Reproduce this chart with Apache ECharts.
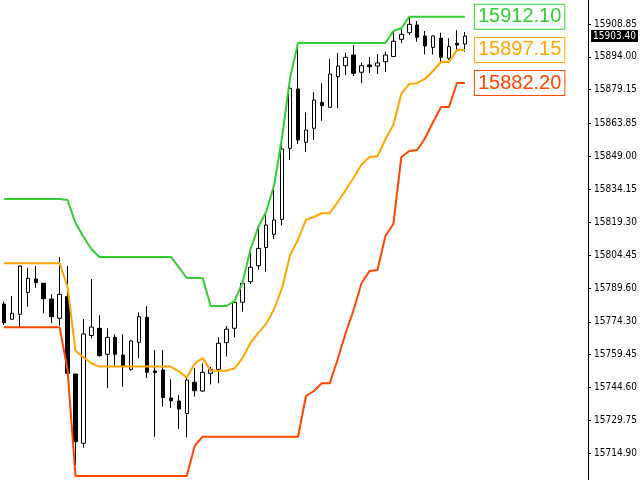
<!DOCTYPE html>
<html>
<head>
<meta charset="utf-8">
<script src="https://cdn.jsdelivr.net/npm/echarts@6/dist/echarts.min.js"></script>
<style>
html,body{margin:0;padding:0;background:#fff;}
#main{width:640px;height:480px;}
</style>
</head>
<body>
<div id="main"></div>
<script>
// ---- data ----
var opens = [15782.35,15775.45,15777.70,15787.65,15793.65,15791.70,15784.60,15775.90,15785.65,15750.75,
15719.45,15768.15,15771.40,15759.65,15767.30,15759.30,15752.85,15765.05,15776.35,15752.10,
15752.55,15739.90,15738.55,15732.90,15747.00,15743.05,15751.05,15752.85,15764.90,15771.40,
15783.15,15792.45,15799.65,15807.90,15813.85,15820.60,15852.70,15879.50,15855.40,15861.75,
15873.50,15871.20,15885.05,15890.00,15894.85,15887.05,15890.35,15889.85,15891.80,15894.15,
15901.95,15904.90,15908.40,15903.45,15898.30,15902.40,15893.35,15900.15,15899.80];
var highs = [15783.50,15785.95,15799.75,15798.75,15799.50,15791.85,15786.75,15803.60,15799.50,15750.75,
15775.60,15793.65,15777.25,15771.40,15768.65,15768.65,15766.10,15778.60,15781.45,15761.60,
15761.60,15748.35,15741.25,15749.50,15753.45,15755.55,15753.90,15767.30,15772.40,15783.70,
15791.85,15806.75,15817.15,15824.05,15836.10,15857.80,15884.45,15900.25,15868.95,15878.00,
15882.05,15893.05,15895.75,15895.90,15899.35,15891.35,15893.95,15895.30,15896.35,15905.70,
15906.90,15912.10,15910.20,15905.70,15903.65,15904.90,15902.40,15906.00,15905.25];
var lows = [15772.85,15775.35,15772.10,15781.15,15789.70,15778.15,15773.65,15772.55,15750.30,15709.65,
15717.45,15766.85,15758.55,15744.30,15754.35,15745.00,15752.25,15757.85,15748.95,15722.40,
15735.95,15735.40,15725.90,15722.05,15740.55,15742.60,15746.00,15746.55,15758.65,15767.20,
15778.90,15791.40,15797.70,15796.95,15811.70,15817.75,15847.40,15854.65,15851.15,15856.45,
15865.15,15871.10,15870.75,15885.80,15885.35,15882.05,15886.70,15886.25,15887.15,15894.10,
15900.15,15903.90,15900.85,15895.15,15895.05,15891.25,15892.60,15897.10,15896.35];
var closes = [15773.90,15778.15,15799.50,15793.95,15792.00,15784.75,15776.60,15786.75,15751.05,15720.15,
15768.80,15771.95,15759.00,15767.30,15759.65,15754.05,15765.65,15776.60,15751.50,15751.40,
15740.10,15738.65,15734.90,15748.00,15743.20,15751.50,15752.85,15764.60,15770.95,15783.15,
15791.70,15798.95,15807.50,15818.05,15820.30,15852.40,15879.80,15856.45,15860.95,15874.50,
15871.95,15886.25,15889.85,15893.80,15886.60,15890.00,15889.55,15891.25,15894.85,15901.05,
15904.20,15908.70,15902.85,15898.90,15903.45,15893.80,15898.60,15899.35,15903.40];

var upperBand = [15829.80,15829.80,15829.80,15829.80,15829.80,15829.80,15829.80,15829.80,15829.35,15818.95,
15812.75,15807.20,15803.60,15803.60,15803.60,15803.60,15803.60,15803.60,15803.60,15803.60,
15803.60,15803.60,15799.05,15794.10,15794.10,15794.10,15781.45,15781.45,15781.45,15783.70,
15791.85,15806.75,15817.15,15824.05,15836.10,15857.80,15884.45,15900.25,15900.25,15900.25,
15900.25,15900.25,15900.25,15900.25,15900.25,15900.25,15900.25,15900.25,15900.25,15905.70,
15906.90,15912.10,15912.10,15912.10,15912.10,15912.10,15912.10,15912.10,15912.10];
var middleBand = [15800.80,15800.80,15800.80,15800.80,15800.80,15800.80,15800.80,15800.80,15790.05,15761.25,
15758.30,15755.60,15754.10,15754.10,15754.10,15754.10,15754.10,15754.10,15754.10,15754.10,
15754.10,15754.10,15751.95,15749.15,15755.40,15757.90,15752.25,15752.25,15752.25,15753.25,
15757.80,15764.65,15769.30,15773.50,15780.10,15789.60,15804.40,15811.50,15820.40,15821.65,
15823.40,15823.40,15828.45,15833.85,15839.40,15845.35,15848.75,15849.10,15856.80,15863.30,
15877.30,15881.80,15882.10,15884.15,15887.75,15891.70,15891.70,15897.15,15897.15];
var lowerBand = [15771.85,15771.85,15771.85,15771.85,15771.85,15771.85,15771.85,15771.85,15752.55,15704.65,
15704.65,15704.65,15704.65,15704.65,15704.65,15704.65,15704.65,15704.65,15704.65,15704.65,
15704.65,15704.65,15704.65,15704.65,15718.20,15722.40,15722.40,15722.40,15722.40,15722.40,
15722.40,15722.40,15722.40,15722.40,15722.40,15722.40,15722.40,15722.40,15740.80,15743.05,
15746.55,15746.55,15757.50,15769.25,15779.65,15791.85,15797.25,15797.70,15813.10,15818.50,
15848.75,15851.50,15851.95,15857.35,15864.60,15871.35,15871.35,15882.20,15882.20];

var priceTicks = [15908.85,15894.00,15879.15,15863.85,15849.00,15834.15,15819.30,15804.45,
15789.60,15774.30,15759.45,15744.60,15729.75,15714.90];
var lastPrice = 15903.40;
var axisMin = 15702.85, axisMax = 15919.69;
var emptySlots = 15; // blank bars to the right of the last candle

// ---- build ----
var categories = [];
for (var i = 0; i < opens.length + emptySlots; i++) categories.push(String(i + 1));
var ohlc = opens.map(function (o, i) { return [o, closes[i], lows[i], highs[i]]; });

var smallFont = "'Liberation Sans Narrow','DejaVu Sans Condensed','Liberation Sans',sans-serif";
function bandSeries(name, data, color) {
  return {
    name: name, type: 'line', data: data, symbol: 'none', silent: true,
    lineStyle: { color: color, width: 2 }, z: 5,
    endLabel: {
      show: true, distance: 10,
      formatter: function (p) { return Number(p.value).toFixed(2); },
      color: color, fontSize: 20, fontFamily: "'Liberation Sans',Arial,sans-serif",
      backgroundColor: '#fff', borderColor: color, borderWidth: 1,
      padding: [3, 3, 1, 3]
    }
  };
}

var chart = echarts.init(document.getElementById('main'), null, { renderer: 'canvas' });
chart.setOption({
  animation: false,
  backgroundColor: '#fff',
  grid: { left: -1, right: 49, top: 0, bottom: 0, containLabel: false },
  xAxis: {
    type: 'category', data: categories, boundaryGap: true,
    axisLine: { show: false }, axisTick: { show: false }, axisLabel: { show: false },
    splitLine: { show: false }
  },
  yAxis: {
    type: 'value', position: 'right', min: axisMin, max: axisMax, scale: true,
    axisLine: { show: true, lineStyle: { color: '#000', width: 1 } },
    axisTick: { show: true, length: 3, customValues: priceTicks, lineStyle: { color: '#000' } },
    axisLabel: {
      show: true, customValues: priceTicks, margin: 6, color: '#000',
      fontSize: 10, fontFamily: smallFont,
      formatter: function (v) { return Number(v).toFixed(2); }
    },
    splitLine: { show: false }
  },
  series: [
    {
      name: 'price', type: 'candlestick', data: ohlc, barWidth: 4, silent: true, clip: false,
      itemStyle: { color: '#fff', color0: '#000', borderColor: '#000', borderColor0: '#000', borderWidth: 1 },
      markLine: {
        silent: true, symbol: ['none', 'none'], animation: false, z: 10,
        lineStyle: { color: 'rgba(0,0,0,0)', width: 1, type: 'solid' },
        data: [{ yAxis: lastPrice }],
        label: {
          show: true, position: 'end', distance: 3,
          formatter: function () { return lastPrice.toFixed(2); },
          backgroundColor: '#000', color: '#fff', fontSize: 10, fontFamily: smallFont,
          padding: [1, 2, 1, 2]
        }
      }
    },
    bandSeries('upper', upperBand, '#32CD32'),
    bandSeries('middle', middleBand, '#FFA500'),
    bandSeries('lower', lowerBand, '#FF4500')
  ]
});
</script>
</body>
</html>
